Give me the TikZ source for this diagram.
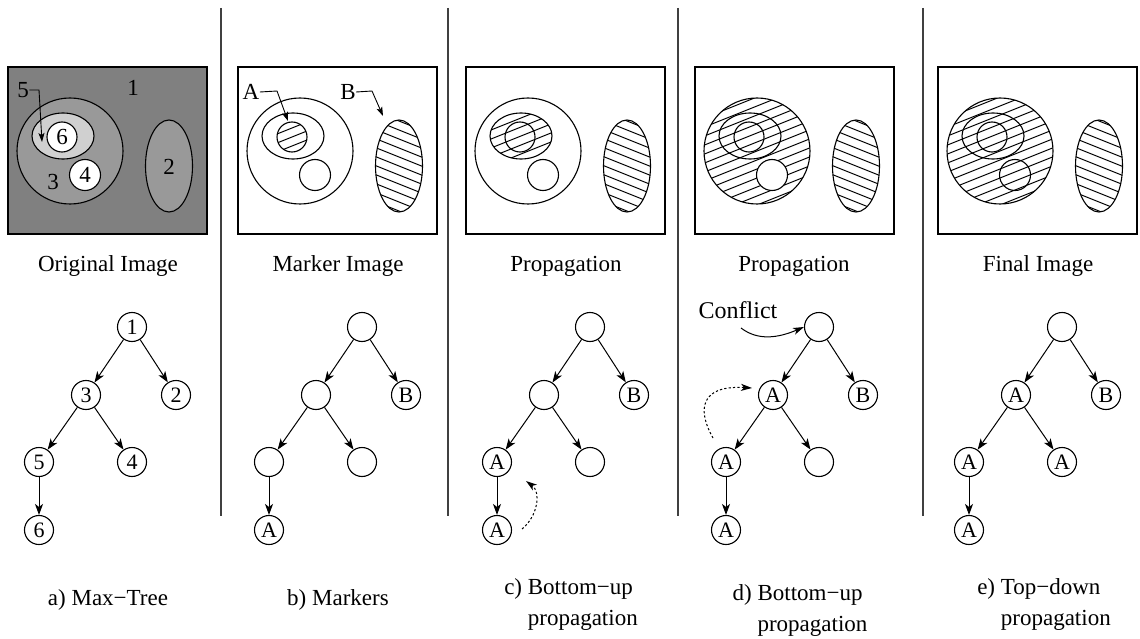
\documentclass[tikz,border=0pt]{standalone}
\usepackage{fontspec}
\setmainfont{Liberation Serif}
\usetikzlibrary{arrows.meta,calc}
\definecolor{gA}{RGB}{128,128,128}
\definecolor{gB}{RGB}{153,153,153}
\definecolor{gC}{RGB}{208,208,208}
\newcommand\hatchup[3]{% clip already set; #1,#2 centre, #3 k-range
  \foreach \k in {-#3,...,#3} \draw[hatchline] ({#1-100},{#2+\k*9+40}) -- ({#1+100},{#2+\k*9-40});}
\newcommand\hatchdown[3]{%
  \foreach \k in {-#3,...,#3} \draw[hatchline] ({#1-100},{#2+\k*9-40}) -- ({#1+100},{#2+\k*9+40});}
\newcommand\mktree[8]{%
  \node[tn] (#1r) at ({#2+124},327) {#3};
  \node[tn] (#1l) at ({#2+78},395) {#4};
  \node[tn] (#1m) at ({#2+168},395) {#5};
  \node[tn] (#1ll) at ({#2+31},462) {#6};
  \node[tn] (#1lr) at ({#2+124},462) {#7};
  \node[tn] (#1lll) at ({#2+31},530) {#8};
  \draw[edge] (#1r) -- (#1l);
  \draw[edge] (#1r) -- (#1m);
  \draw[edge] (#1l) -- (#1ll);
  \draw[edge] (#1l) -- (#1lr);
  \draw[edge] (#1ll) -- (#1lll);}
\begin{document}
\begin{tikzpicture}[x=1pt,y=-1pt,line width=1.1pt,
  tn/.style={circle,draw,line width=1.1pt,minimum size=29pt,inner sep=0pt,font=\fontsize{22}{22}\selectfont},
  edge/.style={-{Stealth[length=11pt,width=8pt,inset=3pt]},line width=1pt},
  lbl/.style={font=\fontsize{23}{31}\selectfont,inner sep=0pt},
  hatchline/.style={line width=1pt},
  pointer/.style={-{Stealth[length=9pt,width=6pt,inset=2pt]},line width=0.9pt},
  curvearrow/.style={-{Stealth[length=11pt,width=7pt,inset=3pt]},line width=1pt},
  dotarrow/.style={-{Stealth[length=11pt,width=7pt,inset=3pt]},line width=1pt,dash pattern=on 2.2pt off 2.2pt},
  sep/.style={line width=1.2pt,black!75}]
\useasboundingbox (0,0) rectangle (1140,639);
% separators
\draw[sep] (221,8) -- (221,516);
\draw[sep] (448,8) -- (448,516);
\draw[sep] (678,8) -- (678,516);
\draw[sep] (923,8) -- (923,516);

% ---------- panel a
\begin{scope}[shift={(8,0)}]
  \fill[gA] (0,67) rectangle (199,234);
  \draw[line width=1.2pt] (0,67) rectangle (199,234);
  \draw[fill=gB] (62,151) circle[radius=53pt];
  \draw[fill=gC] (55,136) ellipse[x radius=31pt,y radius=23pt];
  \draw[fill=white] (54,137) circle[radius=15pt];
  \draw[fill=white] (77,175) circle[radius=15.5pt];
  \draw[fill=gB] (161,166) ellipse[x radius=23.5pt,y radius=46pt];
  \node[lbl] (aI1) at (125,88) {1};
  \node[lbl] (aI2) at (161,167) {2};
  \node[lbl] (aI3) at (45,182) {3};
  \node[lbl] (aI4) at (77,175) {4};
  \node[lbl] (aI6) at (54,137) {6};
  \node[lbl] (aI5) at (15,90) {5};
  \coordinate (a5b) at (31,90);
  \coordinate (a5t) at (34,142);
  \draw[pointer] (aI5.east) -- (a5b) -- (a5t);
\end{scope}

% ---------- panel b
\begin{scope}[shift={(238,0)}]
  \draw[line width=1.2pt] (0,67) rectangle (199,234);
  \draw (62,151) circle[radius=53pt];
  \draw (55,136) ellipse[x radius=31pt,y radius=23pt];
  \begin{scope}\clip (54,137) circle[radius=15pt]; \hatchup{54}{137}{8}\end{scope}
  \draw (54,137) circle[radius=15pt];
  \draw (77,175) circle[radius=15.5pt];
  \begin{scope}\clip (161,166) ellipse[x radius=23.5pt,y radius=46pt]; \hatchdown{161}{166}{12}\end{scope}
  \draw (161,166) ellipse[x radius=23.5pt,y radius=46pt];
  \node[lbl] (bIA) at (13,92) {A};
  \node[lbl] (bIB) at (110,92) {B};
  \coordinate (bAb) at (39,91);
  \coordinate (bAt) at (50,121);
  \coordinate (bBb) at (134,91);
  \coordinate (bBt) at (145,116);
  \draw[pointer] (bIA.east) -- (bAb) -- (bAt);
  \draw[pointer] (bIB.east) -- (bBb) -- (bBt);
\end{scope}

% ---------- panel c
\begin{scope}[shift={(466,0)}]
  \draw[line width=1.2pt] (0,67) rectangle (199,234);
  \begin{scope}\clip (55,136) ellipse[x radius=31pt,y radius=23pt]; \hatchup{55}{136}{10}\end{scope}
  \draw (62,151) circle[radius=53pt];
  \draw (55,136) ellipse[x radius=31pt,y radius=23pt];
  \draw (54,137) circle[radius=15pt];
  \draw (77,175) circle[radius=15.5pt];
  \begin{scope}\clip (161,166) ellipse[x radius=23.5pt,y radius=46pt]; \hatchdown{161}{166}{12}\end{scope}
  \draw (161,166) ellipse[x radius=23.5pt,y radius=46pt];
\end{scope}

% ---------- panel d
\begin{scope}[shift={(695,0)}]
  \draw[line width=1.2pt] (0,67) rectangle (199,234);
  \begin{scope}\clip (62,151) circle[radius=53pt]; \hatchup{62}{151}{12}\end{scope}
  \draw[fill=white] (77,175) circle[radius=15.5pt];
  \draw (62,151) circle[radius=53pt];
  \draw (55,136) ellipse[x radius=31pt,y radius=23pt];
  \draw (54,137) circle[radius=15pt];
  \begin{scope}\clip (161,166) ellipse[x radius=23.5pt,y radius=46pt]; \hatchdown{161}{166}{12}\end{scope}
  \draw (161,166) ellipse[x radius=23.5pt,y radius=46pt];
\end{scope}

% ---------- panel e
\begin{scope}[shift={(938,0)}]
  \draw[line width=1.2pt] (0,67) rectangle (199,234);
  \begin{scope}\clip (62,151) circle[radius=53pt]; \hatchup{62}{151}{12}\end{scope}
  \draw (62,151) circle[radius=53pt];
  \draw (55,136) ellipse[x radius=31pt,y radius=23pt];
  \draw (54,137) circle[radius=15pt];
  \draw (77,175) circle[radius=15.5pt];
  \begin{scope}\clip (161,166) ellipse[x radius=23.5pt,y radius=46pt]; \hatchdown{161}{166}{12}\end{scope}
  \draw (161,166) ellipse[x radius=23.5pt,y radius=46pt];
\end{scope}

% captions
\node[lbl] (capa) at (108,266) {Original Image};
\node[lbl] (capb) at (338,266) {Marker Image};
\node[lbl] (capc) at (566,266) {Propagation};
\node[lbl] (capd) at (794,266) {Propagation};
\node[lbl] (cape) at (1038,266) {Final Image};

% trees
\mktree{ta}{8}{1}{3}{2}{5}{4}{6}
\mktree{tb}{238}{}{}{B}{}{}{A}
\mktree{tc}{466}{}{}{B}{A}{}{A}
\mktree{td}{695}{}{A}{B}{A}{}{A}
\mktree{te}{938}{}{A}{B}{A}{A}{A}

% dotted propagation arrows
\coordinate (cS) at (522,529);
\coordinate (cE) at (526,481);
\draw[dotarrow] (cS) .. controls (538,516) and (541,492) .. (cE);
\coordinate (dS) at (713,438);
\coordinate (dE) at (752,388);
\draw[dotarrow] (dS) .. controls (697,410) and (700,385) .. (dE);

% conflict
\node[lbl,font=\fontsize{24}{31}\selectfont] (conf) at (738,310) {Conf\kern0pt lict};
\coordinate (kS) at (741,328);
\draw[curvearrow] (kS) .. controls (758,341) and (778,338) .. (tdr.west);

% bottom labels
\node[lbl] (la) at (108,600) {a) Max−Tree};
\node[lbl] (lb) at (338,600) {b) Markers};
\node[lbl,align=left] (lc) at (571,604) {c) Bottom−up\\\hphantom{c) }propagation};
\node[lbl,align=left] (ld) at (800,610) {d) Bottom−up\\\hphantom{d) }propagation};
\node[lbl,align=left] (le) at (1044,604) {e) Top−down\\\hphantom{e) }propagation};
\end{tikzpicture}
\end{document}
